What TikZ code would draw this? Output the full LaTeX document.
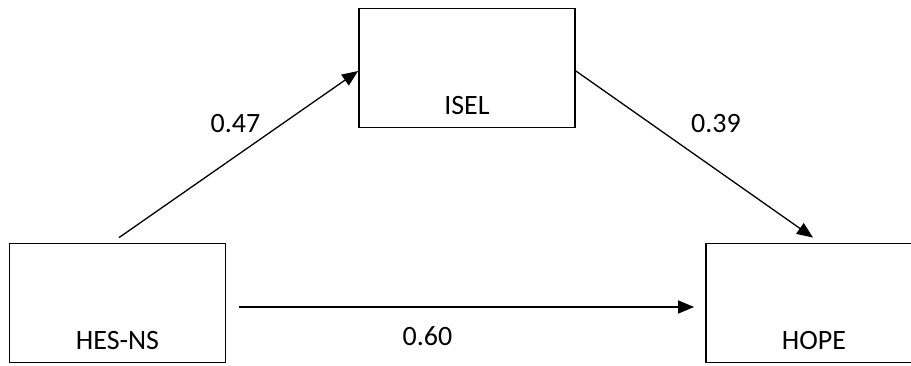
\documentclass[tikz,border=0pt]{standalone}
\usepackage{fontspec}
\setmainfont{Carlito}
\usetikzlibrary{arrows.meta}
\begin{document}
\begin{tikzpicture}[x=1pt,y=1pt,
  box/.style={draw=black, line width=1.8pt, rectangle, minimum width=216pt, minimum height=119pt, inner sep=0pt},
  boxlbl/.style={anchor=base, yshift=14pt, inner sep=0pt, font=\fontsize{28}{34}\selectfont},
  coef/.style={anchor=base, inner sep=0pt, font=\fontsize{28}{34}\selectfont},
  conn/.style={line width=1.3pt, -{Triangle[length=16pt,width=13pt]}}]
\useasboundingbox (0,0) rectangle (911,365);
\node[box, label={[boxlbl]south:HES-NS}] (hes) at (117.5,62) {};
\node[box, label={[boxlbl]south:ISEL}] (isel) at (467,297) {};
\node[box, label={[boxlbl]south:HOPE}] (hope) at (814,62) {};
\draw[conn] ([xshift=1.5pt,yshift=5pt]hes.north) -- ([yshift=-3pt]isel.west);
\draw[conn] ([yshift=-3pt]isel.east) -- ([xshift=-1pt,yshift=5pt]hope.north);
\draw[conn] ([xshift=13pt,yshift=-4pt]hes.east) -- ([xshift=-11pt,yshift=-4pt]hope.west);
\node[coef] (c1) at (235.5,233) {0.47};
\node[coef] (c2) at (716,233) {0.39};
\node[coef] (c3) at (427.5,20) {0.60};
\end{tikzpicture}
\end{document}
